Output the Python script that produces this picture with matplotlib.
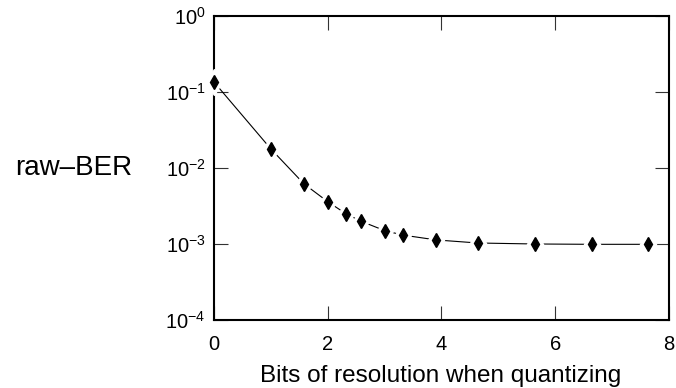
import matplotlib
matplotlib.use('Agg')
import matplotlib.pyplot as plt
from matplotlib.ticker import NullLocator, FixedLocator

plt.rcParams['font.family'] = ['Liberation Sans', 'DejaVu Sans']
plt.rcParams['mathtext.fontset'] = 'custom'
plt.rcParams['mathtext.rm'] = 'Liberation Sans'
plt.rcParams['mathtext.it'] = 'Liberation Sans'
plt.rcParams['mathtext.default'] = 'regular'

# bits of resolution and measured raw bit error rate
bits = [0.0, 1.0, 1.58, 2.0, 2.32, 2.58, 3.0, 3.32, 3.91, 4.64, 5.64, 6.64, 7.64]
ber = [0.135, 0.0178, 0.0062, 0.0036, 0.0025, 0.0020, 0.0015, 0.00131,
       0.00113, 0.00103, 0.00100, 0.00099, 0.00099]

x_ticks = [0, 2, 4, 6, 8]
y_ticks = [1e-4, 1e-3, 1e-2, 1e-1, 1e0]
y_tick_labels = ['$10^{-4}$', '$10^{-3}$', '$10^{-2}$', '$10^{-1}$', '$10^{0}$']


def plot_ber():
    fig = plt.figure(figsize=(6.76, 3.88), dpi=100)
    ax = fig.add_axes([0.3166, 0.1753, 0.673, 0.7835])

    ax.plot(bits, ber, color='black', linewidth=0.8, zorder=2)
    # white halo so the line stops short of each marker
    ax.plot(bits, ber, linestyle='none', marker='d', markersize=13,
            color='white', markeredgecolor='white', zorder=3, clip_on=False)
    ax.plot(bits, ber, linestyle='none', marker='d', markersize=7.5,
            color='black', zorder=4, clip_on=False)

    ax.set_yscale('log')
    ax.set_xlim(0, 8)
    ax.set_ylim(1e-4, 1e0)
    ax.xaxis.set_major_locator(FixedLocator(x_ticks))
    ax.yaxis.set_major_locator(FixedLocator(y_ticks))
    ax.yaxis.set_minor_locator(NullLocator())
    ax.set_yticklabels(y_tick_labels)

    for s in ax.spines.values():
        s.set_linewidth(1.5)
    ax.tick_params(which='major', direction='in', length=10, width=0.8,
                   top=True, right=True, labelsize=14.5, color='#333333')
    ax.tick_params(axis='x', pad=11)
    ax.tick_params(axis='y', pad=6)

    fig.text(0.6525, 0.0155, 'Bits of resolution when quantizing',
             fontsize=17.5, ha='center', va='baseline')
    fig.text(0.109, 0.567, 'raw\u2013BER', fontsize=20, ha='center', va='center')

    fig.savefig('out.png', dpi=100)


if __name__ == '__main__':
    plot_ber()
